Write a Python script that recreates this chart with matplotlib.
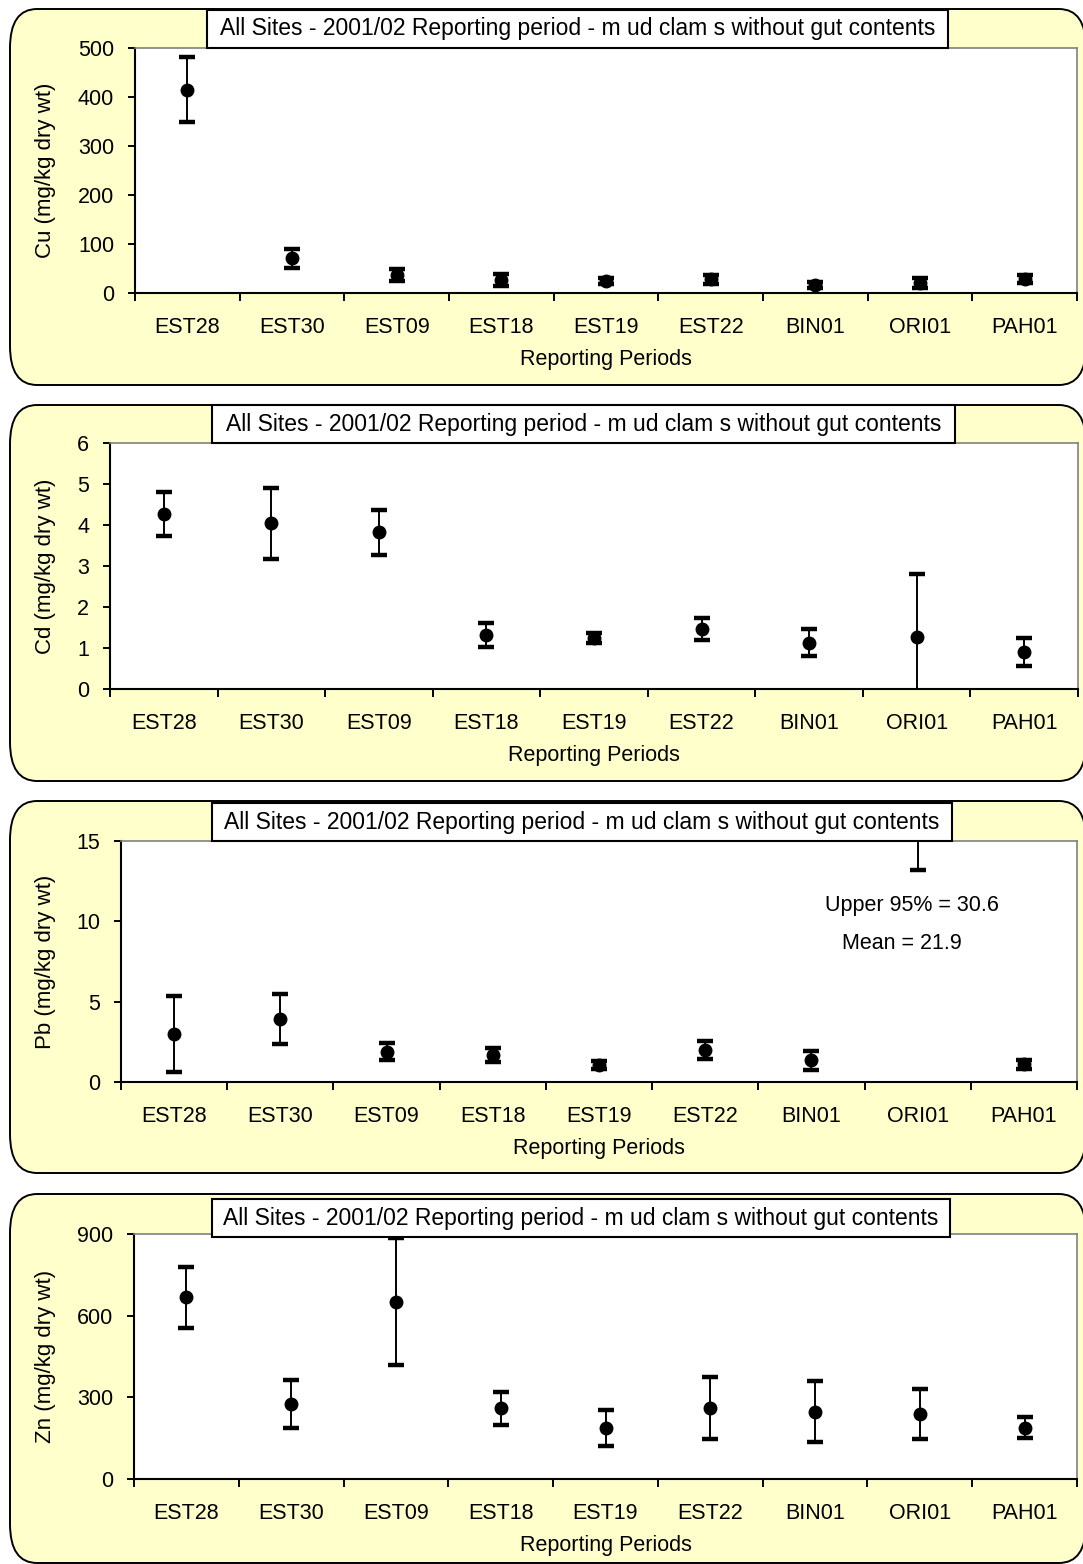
import matplotlib
matplotlib.use('Agg')
import matplotlib.pyplot as plt
from matplotlib.patches import FancyBboxPatch, Rectangle
import numpy as np

plt.rcParams['font.family'] = ['Liberation Sans', 'DejaVu Sans']

# Site means and 95% half-widths
sites = ['EST28', 'EST30', 'EST09', 'EST18', 'EST19', 'EST22', 'BIN01', 'ORI01', 'PAH01']

cu_mean = [415, 71, 37, 27, 24, 28, 16, 20, 28]
cu_ci = [67, 19, 13, 12, 6, 9, 6, 10, 8]

cd_mean = [4.27, 4.04, 3.82, 1.32, 1.24, 1.46, 1.13, 1.26, 0.90]
cd_ci = [0.53, 0.87, 0.54, 0.29, 0.13, 0.27, 0.33, 1.54, 0.35]

pb_mean = [2.97, 3.93, 1.87, 1.68, 1.06, 1.99, 1.34, 21.9, 1.09]
pb_ci = [2.37, 1.56, 0.53, 0.45, 0.25, 0.56, 0.59, 8.7, 0.28]

zn_mean = [668, 276, 652, 259, 186, 260, 247, 239, 188]
zn_ci = [112, 88, 234, 60, 66, 113, 112, 92, 39]

title = 'All Sites - 2001/02 Reporting period - m ud clam s without gut contents'

W, H = 1083, 1564
FS = 15.5
fig = plt.figure(figsize=(W / 100, H / 100), dpi=100, facecolor='white')


def fx(x):
    return x / W


def fy(y):
    return 1 - y / H


def panel(box, plot, tbox, mean, ci, ymax, ystep, ylabel):
    # rounded yellow background
    bx0, by0, bx1, by1 = box
    fig.patches.append(FancyBboxPatch((fx(bx0), fy(by1)), fx(bx1 - bx0), (by1 - by0) / H,
                                      boxstyle='round,pad=0,rounding_size=0.025',
                                      transform=fig.transFigure, facecolor='#FFFFCC',
                                      edgecolor='black', lw=1.4, zorder=-2))
    l, t, r, b = plot
    ax = fig.add_axes([fx(l), fy(b), fx(r - l), (b - t) / H])
    ax.set_facecolor('white')
    x = np.arange(len(sites)) + 0.5
    ax.errorbar(x, mean, yerr=ci, fmt='o', color='black', ms=9, elinewidth=1.4,
                capsize=5.6, capthick=3.2)
    ax.set_xlim(0, len(sites))
    ax.set_ylim(0, ymax)
    ax.set_yticks(np.arange(0, ymax + ystep / 2, ystep))
    ax.set_xticks(np.arange(0, len(sites) + 1))
    ax.set_xticklabels([])
    ax.set_xticks(x, minor=True)
    ax.set_xticklabels(sites, minor=True)
    ax.tick_params(axis='x', which='major', direction='out', length=6, width=1.4)
    ax.tick_params(axis='x', which='minor', length=0, pad=17, labelsize=FS)
    ax.tick_params(axis='y', direction='out', length=5, width=1.4, pad=10, labelsize=FS)
    for s in ['left', 'bottom']:
        ax.spines[s].set_linewidth(1.5)
    for s in ['top', 'right']:
        ax.spines[s].set_color('#808080')
        ax.spines[s].set_linewidth(1.2)
    ax.set_ylabel(ylabel, fontsize=16)
    ax.yaxis.set_label_coords((56 - l) / (r - l), 0.5)
    ax.set_xlabel('Reporting Periods', fontsize=FS)
    ax.xaxis.set_label_coords(0.5, -56 / (b - t))
    # title box sitting on the top edge of the plot
    tx0, ty0, tx1, ty1 = tbox
    fig.patches.append(Rectangle((fx(tx0), fy(ty1)), fx(tx1 - tx0), (ty1 - ty0) / H,
                                 transform=fig.transFigure, facecolor='white',
                                 edgecolor='black', lw=1.5, zorder=5))
    fig.text(fx((tx0 + tx1) / 2), fy((ty0 + ty1) / 2), title, ha='center', va='center',
             fontsize=16.5, zorder=6)
    return ax


panel((10, 9, 1086, 385), (135, 48, 1077, 293), (207, 10, 948, 48),
      cu_mean, cu_ci, 500, 100, 'Cu (mg/kg dry wt)')
panel((10, 405, 1086, 781), (110, 443, 1078, 689), (212, 405, 955, 443),
      cd_mean, cd_ci, 6, 1, 'Cd (mg/kg dry wt)')
ax3 = panel((10, 801, 1086, 1173), (121, 841, 1077, 1082), (212, 803, 952, 841),
            pb_mean, pb_ci, 15, 5, 'Pb (mg/kg dry wt)')
panel((10, 1194, 1086, 1563), (134, 1234, 1077, 1479), (212, 1199, 950, 1237),
      zn_mean, zn_ci, 900, 300, 'Zn (mg/kg dry wt)')

# ORI01 lead value is off scale, so it is written in
ax3.text(7.45, 11.0, 'Upper 95% = 30.6', ha='center', va='center', fontsize=FS)
ax3.text(7.35, 8.65, 'Mean = 21.9', ha='center', va='center', fontsize=FS)

plt.savefig('out.png', dpi=100)
